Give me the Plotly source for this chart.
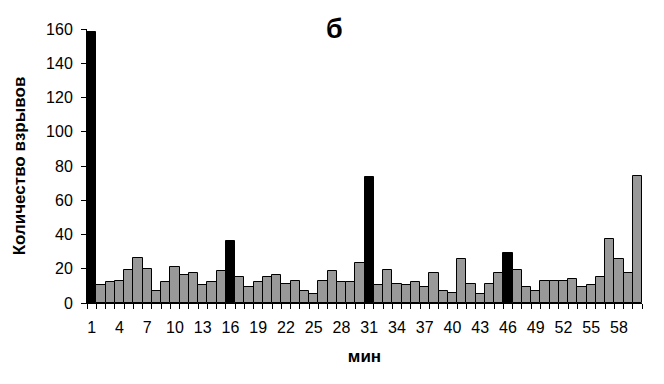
import plotly.graph_objects as go

minutes = list(range(1, 61))
explosions = [158, 10.5, 12.3, 13, 19.3, 26.5, 20, 7, 12.3, 21.2,
              16.3, 17.5, 10.5, 12.3, 18.7, 36.4, 15.2, 9.3, 12.3, 15.2,
              16.3, 11.1, 12.8, 7, 5.3, 12.8, 18.7, 12.3, 12.3, 23.4,
              73.8, 10.5, 19.3, 11.1, 10.5, 12.3, 9.3, 17.5, 7, 5.8,
              25.7, 11.1, 5.3, 11.1, 17.5, 29.2, 19.3, 9.3, 7, 12.8,
              12.8, 12.8, 14, 9.3, 10.5, 15.2, 37.6, 25.7, 17.5, 74.2]
highlight = [1, 16, 31, 46]
tick_labels = list(range(1, 60, 3))

colors = ["#000000" if m in highlight else "#999999" for m in minutes]

fig = go.Figure(go.Bar(
    x=minutes, y=explosions,
    marker=dict(color=colors, line=dict(color="#000000", width=1)),
    width=1.0,
))

font = "Liberation Sans, Arial, sans-serif"
fig.update_layout(
    width=664, height=384,
    margin=dict(l=87, r=22, t=29, b=81),
    paper_bgcolor="white", plot_bgcolor="white",
    showlegend=False,
    bargap=0,
    font=dict(family=font, color="black", size=16),
    xaxis=dict(
        range=[0.5, 60.5],
        tickvals=tick_labels, ticktext=[str(v) for v in tick_labels],
        ticks="", showgrid=False, zeroline=False,
        showline=True, linecolor="black", linewidth=1,
        tickfont=dict(size=16), ticklabelstandoff=10,
        minor=dict(tick0=0.5, dtick=1, ticks="outside", ticklen=5,
                   tickcolor="black", tickwidth=1, showgrid=False),
        title=dict(text="<b>мин</b>", font=dict(size=17), standoff=14),
    ),
    yaxis=dict(
        range=[0, 160], dtick=20,
        ticks="outside", ticklen=5, tickcolor="black",
        showgrid=False, zeroline=False,
        showline=True, linecolor="black", linewidth=1,
        tickfont=dict(size=16), ticklabelstandoff=5,
        title=dict(text="<b>Количество взрывов</b>", font=dict(size=17), standoff=16),
    ),
    annotations=[dict(
        text="<b>б</b>", x=(334 - 87) / 555, y=1.0, xref="paper", yref="paper",
        yanchor="middle", xanchor="center", showarrow=False,
        font=dict(size=27, family=font),
    )],
)

fig.write_html("out.html")
